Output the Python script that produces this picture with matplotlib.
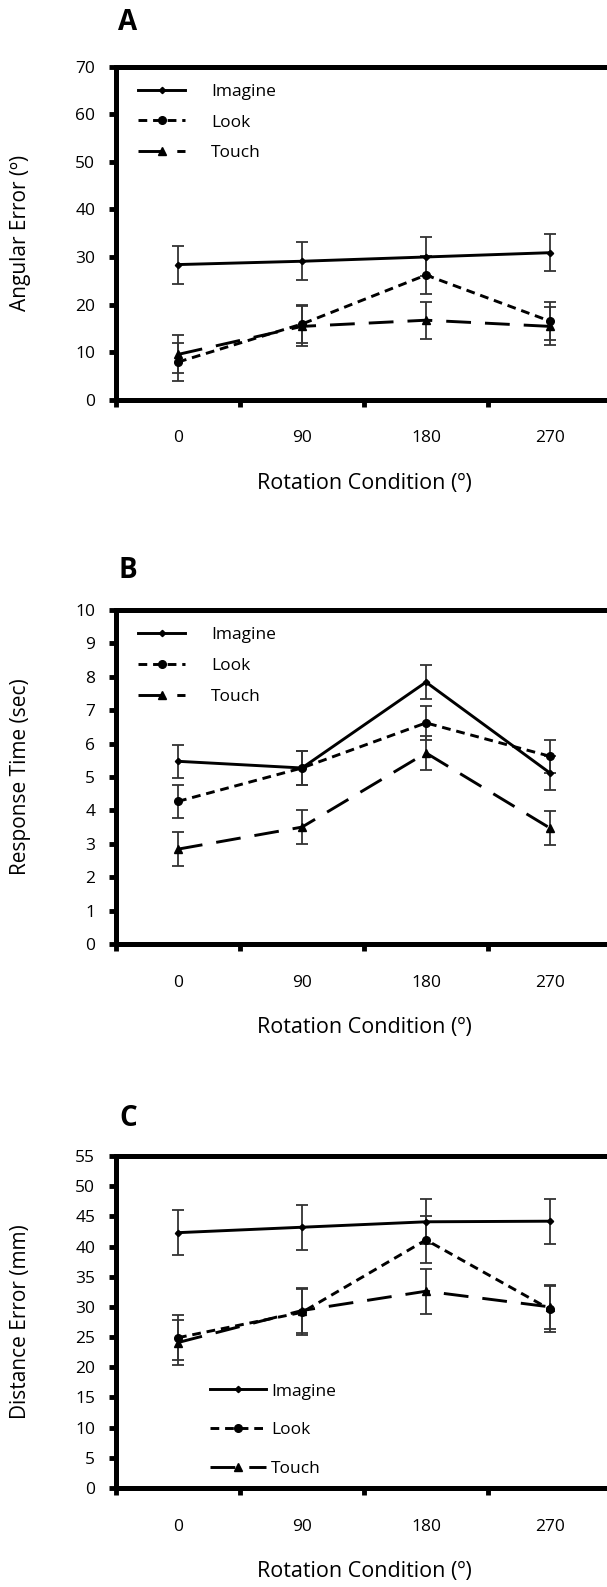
import matplotlib.pyplot as plt
import numpy as np

plt.rcParams['font.family'] = ['Open Sans', 'DejaVu Sans']

W, H = 607, 1587
conditions = ['0', '90', '180', '270']
series_names = ['Imagine', 'Look', 'Touch']

# panel A: angular error (deg)
ang_mean = {'Imagine': [28.4, 29.1, 30.0, 30.9],
            'Look': [7.9, 15.9, 26.2, 16.5],
            'Touch': [9.5, 15.4, 16.7, 15.4]}
ang_err = {'Imagine': [4.0, 4.0, 4.1, 3.9],
           'Look': [4.0, 4.0, 4.0, 4.0],
           'Touch': [4.0, 4.2, 3.9, 4.0]}

# panel B: response time (sec)
rt_mean = {'Imagine': [5.47, 5.27, 7.84, 5.12],
           'Look': [4.27, 5.27, 6.62, 5.62],
           'Touch': [2.84, 3.50, 5.72, 3.47]}
rt_err = {'Imagine': [0.5, 0.5, 0.5, 0.5],
          'Look': [0.5, 0.5, 0.5, 0.5],
          'Touch': [0.5, 0.5, 0.5, 0.5]}

# panel C: distance error (mm)
dist_mean = {'Imagine': [42.3, 43.2, 44.1, 44.2],
             'Look': [24.9, 29.1, 41.1, 29.6],
             'Touch': [24.1, 29.4, 32.6, 30.0]}
dist_err = {'Imagine': [3.7, 3.75, 3.75, 3.75],
            'Look': [3.7, 3.8, 3.9, 3.8],
            'Touch': [3.7, 3.7, 3.7, 3.7]}

styles = {'Imagine': dict(linestyle='-', marker='D', markersize=3.2),
          'Look': dict(linestyle=(0, (3.0, 2.0)), marker='o', markersize=5.5),
          'Touch': dict(linestyle=(0, (8.5, 4.8)), marker='^', markersize=5.5)}


def draw_panel(top_px, bot_px, means, errs, ylim, ystep, ylabel, letter, letter_y,
               leg_anchor, leg_kw):
    ax = fig.add_axes([116 / W, 1 - bot_px / H, 496 / W, (bot_px - top_px) / H])
    x = np.arange(len(conditions))
    for name in series_names:
        ax.errorbar(x, means[name], yerr=errs[name], fmt='none', ecolor='#333333',
                    elinewidth=1.3, capsize=4, capthick=1.3, zorder=2)
    for name in series_names:
        ax.plot(x, means[name], color='black', linewidth=2.1, label=name,
                zorder=3, **styles[name])
    ax.set_xlim(-0.5, 3.5)
    ax.set_ylim(*ylim)
    ax.set_yticks(np.arange(ylim[0], ylim[1] + 0.01, ystep))
    ax.set_xticks([-0.5, 0.5, 1.5, 2.5])
    ax.set_xticklabels([])
    ax.set_xticks(x, conditions, minor=True)
    ax.tick_params(axis='both', which='major', direction='out', length=5, width=3.5,
                   labelsize=12.5)
    ax.tick_params(axis='y', pad=10)
    ax.tick_params(axis='x', which='minor', length=0, pad=22, labelsize=12.5)
    for sp in ax.spines.values():
        sp.set_linewidth(3.6)
    ax.set_xlabel('Rotation Condition (º)', fontsize=15.5)
    ax.xaxis.set_label_coords(0.5, -84 / (bot_px - top_px))
    ax.xaxis.label.set_va('center')
    ax.set_ylabel(ylabel, fontsize=15)
    ax.yaxis.set_label_coords((21 - 116) / 496, 0.5)
    ax.yaxis.label.set_va('center')
    ax.legend(loc='upper left', bbox_to_anchor=leg_anchor, frameon=False,
              borderpad=0, borderaxespad=0, fontsize=12.5, **leg_kw)
    fig.text(128 / W, 1 - letter_y / H, letter, fontsize=20, fontweight='bold',
             ha='center', va='center')
    return ax


fig = plt.figure(figsize=(W / 100, H / 100), dpi=100)

top_leg = dict(handlelength=2.7, handletextpad=1.5, labelspacing=0.85)
draw_panel(66.8, 399.6, ang_mean, ang_err, (0, 70), 10, 'Angular Error (º)', 'A', 23,
           (0.045, 0.95), top_leg)
draw_panel(610, 944, rt_mean, rt_err, (0, 10), 1, 'Response Time (sec)', 'B', 571,
           (0.045, 0.95), top_leg)
draw_panel(1156, 1488, dist_mean, dist_err, (0, 55), 5, 'Distance Error (mm)', 'C', 1119,
           (0.19, 0.315), dict(handlelength=3.2, handletextpad=0.3, labelspacing=1.3))

fig.savefig('out.png', dpi=100)
